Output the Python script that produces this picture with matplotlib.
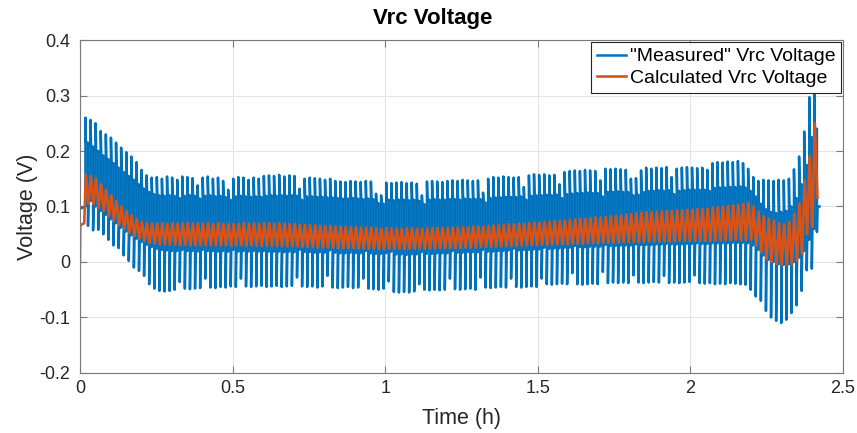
import matplotlib
import numpy as np

matplotlib.use("Agg")
import matplotlib.pyplot as plt

plt.rcParams["font.family"] = ["Liberation Sans", "DejaVu Sans"]

BLUE = "#0072BD"
ORANGE = "#D95319"

# Pulse test: one charge/discharge pulse pair per cycle (time in hours)
CYCLE_START = 0.018
CYCLE_PERIOD = 0.0167

# Measured Vrc per cycle: spike peak, level after peak, spike trough, level after trough (V)
measured_top = [
    0.260, 0.256, 0.250, 0.236, 0.230, 0.224, 0.215, 0.206, 0.198, 0.190, 0.180, 0.166,
    0.156, 0.152, 0.153, 0.150, 0.154, 0.152, 0.148, 0.154, 0.153, 0.151, 0.138, 0.152,
    0.154, 0.150, 0.152, 0.146, 0.130, 0.150, 0.153, 0.152, 0.148, 0.152, 0.150, 0.155,
    0.156, 0.155, 0.157, 0.154, 0.156, 0.155, 0.132, 0.150, 0.152, 0.151, 0.150, 0.148,
    0.150, 0.146, 0.145, 0.144, 0.146, 0.145, 0.144, 0.146, 0.145, 0.123, 0.120, 0.143,
    0.142, 0.143, 0.144, 0.142, 0.143, 0.141, 0.120, 0.145, 0.146, 0.145, 0.144, 0.146,
    0.147, 0.146, 0.148, 0.147, 0.146, 0.147, 0.125, 0.150, 0.153, 0.152, 0.154, 0.153,
    0.152, 0.153, 0.135, 0.156, 0.158, 0.157, 0.158, 0.156, 0.157, 0.140, 0.162, 0.164,
    0.165, 0.164, 0.166, 0.165, 0.164, 0.147, 0.168, 0.167, 0.168, 0.167, 0.166, 0.150,
    0.151, 0.165, 0.170, 0.168, 0.170, 0.169, 0.171, 0.153, 0.168, 0.170, 0.171, 0.170,
    0.169, 0.170, 0.166, 0.178, 0.180, 0.179, 0.181, 0.180, 0.182, 0.178, 0.168, 0.153,
    0.146, 0.148, 0.147, 0.146, 0.148, 0.147, 0.150, 0.167, 0.190, 0.235, 0.297, 0.302,
]
measured_high = [
    0.215, 0.208, 0.200, 0.192, 0.185, 0.178, 0.170, 0.162, 0.155, 0.148, 0.140, 0.132,
    0.126, 0.122, 0.120, 0.119, 0.120, 0.119, 0.115, 0.119, 0.120, 0.119, 0.114, 0.119,
    0.120, 0.118, 0.119, 0.117, 0.112, 0.118, 0.119, 0.118, 0.117, 0.118, 0.117, 0.119,
    0.120, 0.119, 0.120, 0.119, 0.120, 0.119, 0.112, 0.118, 0.118, 0.117, 0.117, 0.116,
    0.116, 0.115, 0.114, 0.114, 0.115, 0.114, 0.113, 0.114, 0.113, 0.106, 0.105, 0.112,
    0.111, 0.112, 0.112, 0.111, 0.112, 0.110, 0.104, 0.112, 0.113, 0.112, 0.112, 0.113,
    0.113, 0.112, 0.114, 0.113, 0.113, 0.113, 0.107, 0.115, 0.116, 0.116, 0.117, 0.117,
    0.117, 0.118, 0.112, 0.119, 0.120, 0.120, 0.121, 0.120, 0.121, 0.115, 0.122, 0.123,
    0.124, 0.124, 0.125, 0.124, 0.124, 0.118, 0.126, 0.126, 0.127, 0.126, 0.126, 0.120,
    0.121, 0.126, 0.128, 0.128, 0.129, 0.128, 0.129, 0.122, 0.128, 0.129, 0.130, 0.130,
    0.130, 0.130, 0.128, 0.133, 0.134, 0.134, 0.135, 0.135, 0.136, 0.134, 0.128, 0.118,
    0.105, 0.095, 0.090, 0.088, 0.090, 0.092, 0.100, 0.115, 0.140, 0.175, 0.225, 0.240,
]
measured_bottom = [
    0.065, 0.057, 0.058, 0.050, 0.040, 0.030, 0.025, 0.012, 0.002, -0.010, -0.016, -0.025,
    -0.040, -0.048, -0.052, -0.053, -0.052, -0.050, -0.036, -0.048, -0.049, -0.048, -0.047, -0.030,
    -0.046, -0.047, -0.045, -0.046, -0.044, -0.045, -0.030, -0.044, -0.045, -0.044, -0.043, -0.045,
    -0.044, -0.043, -0.045, -0.044, -0.043, -0.028, -0.044, -0.045, -0.044, -0.046, -0.044, -0.025,
    -0.046, -0.047, -0.046, -0.045, -0.047, -0.046, -0.030, -0.048, -0.049, -0.050, -0.048, -0.035,
    -0.054, -0.055, -0.054, -0.055, -0.053, -0.040, -0.050, -0.051, -0.050, -0.051, -0.050, -0.030,
    -0.049, -0.050, -0.049, -0.048, -0.050, -0.028, -0.046, -0.047, -0.046, -0.045, -0.046, -0.030,
    -0.045, -0.046, -0.045, -0.044, -0.045, -0.030, -0.040, -0.041, -0.040, -0.039, -0.040, -0.020,
    -0.040, -0.041, -0.040, -0.039, -0.040, -0.018, -0.038, -0.037, -0.038, -0.037, -0.038, -0.024,
    -0.037, -0.038, -0.037, -0.036, -0.037, -0.025, -0.038, -0.037, -0.038, -0.037, -0.036, -0.024,
    -0.038, -0.039, -0.038, -0.040, -0.039, -0.040, -0.038, -0.039, -0.040, -0.041, -0.050, -0.062,
    -0.070, -0.088, -0.100, -0.106, -0.110, -0.104, -0.092, -0.078, -0.052, -0.015, -0.012, 0.054,
]
measured_low = [
    0.110, 0.100, 0.092, 0.085, 0.077, 0.070, 0.062, 0.055, 0.048, 0.042, 0.036, 0.031,
    0.027, 0.024, 0.022, 0.021, 0.020, 0.020, 0.022, 0.020, 0.020, 0.019, 0.022, 0.020,
    0.020, 0.019, 0.020, 0.019, 0.022, 0.019, 0.020, 0.019, 0.020, 0.019, 0.020, 0.019,
    0.019, 0.019, 0.018, 0.019, 0.018, 0.022, 0.018, 0.018, 0.017, 0.018, 0.017, 0.021,
    0.017, 0.016, 0.016, 0.017, 0.016, 0.016, 0.020, 0.016, 0.015, 0.015, 0.016, 0.019,
    0.014, 0.014, 0.013, 0.014, 0.014, 0.018, 0.015, 0.015, 0.016, 0.016, 0.016, 0.020,
    0.017, 0.017, 0.018, 0.018, 0.018, 0.022, 0.019, 0.019, 0.020, 0.020, 0.021, 0.024,
    0.021, 0.022, 0.022, 0.023, 0.023, 0.026, 0.024, 0.025, 0.025, 0.026, 0.026, 0.029,
    0.027, 0.027, 0.028, 0.028, 0.028, 0.031, 0.029, 0.029, 0.030, 0.030, 0.030, 0.032,
    0.031, 0.031, 0.031, 0.032, 0.032, 0.033, 0.032, 0.032, 0.032, 0.033, 0.033, 0.034,
    0.033, 0.033, 0.034, 0.034, 0.034, 0.034, 0.035, 0.035, 0.035, 0.034, 0.030, 0.022,
    0.012, 0.004, 0.000, -0.004, -0.005, -0.004, 0.000, 0.008, 0.020, 0.040, 0.060, 0.100,
]

# Calculated Vrc per cycle: peak and trough (V)
calculated_high = [
    0.157, 0.155, 0.150, 0.140, 0.130, 0.120, 0.110, 0.100, 0.092, 0.084, 0.078, 0.072,
    0.070, 0.069, 0.069, 0.070, 0.069, 0.070, 0.069, 0.070, 0.070, 0.069, 0.070, 0.069,
    0.070, 0.069, 0.070, 0.069, 0.068, 0.069, 0.069, 0.070, 0.069, 0.070, 0.069, 0.070,
    0.070, 0.069, 0.070, 0.069, 0.069, 0.068, 0.067, 0.067, 0.066, 0.066, 0.065, 0.065,
    0.065, 0.064, 0.064, 0.063, 0.063, 0.063, 0.062, 0.062, 0.062, 0.061, 0.060, 0.061,
    0.061, 0.061, 0.060, 0.061, 0.061, 0.060, 0.060, 0.061, 0.061, 0.061, 0.062, 0.061,
    0.062, 0.062, 0.063, 0.063, 0.064, 0.064, 0.064, 0.065, 0.066, 0.066, 0.067, 0.068,
    0.068, 0.069, 0.069, 0.070, 0.071, 0.071, 0.072, 0.073, 0.074, 0.074, 0.075, 0.076,
    0.077, 0.078, 0.078, 0.079, 0.080, 0.080, 0.081, 0.082, 0.083, 0.084, 0.085, 0.086,
    0.088, 0.089, 0.090, 0.090, 0.091, 0.091, 0.092, 0.092, 0.093, 0.093, 0.094, 0.094,
    0.095, 0.096, 0.096, 0.098, 0.099, 0.100, 0.101, 0.102, 0.103, 0.105, 0.107, 0.100,
    0.090, 0.082, 0.078, 0.074, 0.070, 0.068, 0.072, 0.087, 0.105, 0.147, 0.190, 0.250,
]
calculated_low = [
    0.105, 0.104, 0.098, 0.092, 0.083, 0.075, 0.067, 0.060, 0.053, 0.047, 0.042, 0.038,
    0.035, 0.033, 0.032, 0.032, 0.031, 0.031, 0.030, 0.031, 0.030, 0.030, 0.030, 0.030,
    0.030, 0.030, 0.030, 0.030, 0.029, 0.030, 0.030, 0.029, 0.030, 0.029, 0.029, 0.029,
    0.029, 0.029, 0.028, 0.028, 0.028, 0.028, 0.027, 0.027, 0.027, 0.026, 0.026, 0.026,
    0.026, 0.025, 0.025, 0.025, 0.025, 0.024, 0.024, 0.024, 0.024, 0.023, 0.023, 0.024,
    0.024, 0.024, 0.023, 0.024, 0.024, 0.024, 0.024, 0.024, 0.024, 0.025, 0.025, 0.025,
    0.025, 0.025, 0.026, 0.026, 0.026, 0.027, 0.027, 0.027, 0.028, 0.028, 0.028, 0.029,
    0.029, 0.029, 0.030, 0.030, 0.030, 0.031, 0.031, 0.031, 0.032, 0.032, 0.032, 0.033,
    0.033, 0.033, 0.034, 0.034, 0.034, 0.035, 0.035, 0.035, 0.035, 0.036, 0.036, 0.036,
    0.036, 0.036, 0.037, 0.037, 0.037, 0.037, 0.037, 0.037, 0.038, 0.038, 0.038, 0.038,
    0.038, 0.038, 0.038, 0.039, 0.039, 0.039, 0.039, 0.040, 0.040, 0.040, 0.040, 0.030,
    0.018, 0.005, 0.000, -0.004, -0.005, -0.005, -0.004, 0.002, 0.015, 0.050, 0.063, 0.116,
]

# Samples before the first pulse
measured_lead_t = [0.0, 0.018]
measured_lead_v = [0.096, 0.100]
calculated_lead_t = [0.0, 0.001, 0.014]
calculated_lead_v = [0.000, 0.066, 0.070]

x_ticks = [0, 0.5, 1, 1.5, 2, 2.5]
x_tick_labels = ["0", "0.5", "1", "1.5", "2", "2.5"]
y_ticks = [-0.2, -0.1, 0, 0.1, 0.2, 0.3, 0.4]
y_tick_labels = ["-0.2", "-0.1", "0", "0.1", "0.2", "0.3", "0.4"]


def measured_trace(starts, period):
    xs = list(measured_lead_t)
    ys = list(measured_lead_v)
    for t0, top, hi, bot, lo in zip(
        starts, measured_top, measured_high, measured_bottom, measured_low
    ):
        xs += [t0, t0 + 0.1 * period, t0 + 0.5 * period, t0 + 0.5 * period,
               t0 + 0.6 * period, t0 + period]
        ys += [top, hi, hi, bot, lo, lo]
    return np.array(xs), np.array(ys)


def calculated_trace(starts, period):
    xs = list(calculated_lead_t)
    ys = list(calculated_lead_v)
    for t0, hi, lo in zip(starts, calculated_high, calculated_low):
        xs += [t0 + 0.08 * period, t0 + 0.6 * period]
        ys += [hi, lo]
    return np.array(xs), np.array(ys)


starts = CYCLE_START + CYCLE_PERIOD * np.arange(len(measured_top))
t_meas, v_meas = measured_trace(starts, CYCLE_PERIOD)
t_calc, v_calc = calculated_trace(starts, CYCLE_PERIOD)

fig = plt.figure(figsize=(8.57, 4.33), dpi=100)
ax = fig.add_axes([0.0933, 0.1386, 0.8904, 0.7690])

ax.plot(t_meas, v_meas, color=BLUE, linewidth=1.8, label='"Measured" Vrc Voltage')
ax.plot(t_calc, v_calc, color=ORANGE, linewidth=1.9, label="Calculated Vrc Voltage")

ax.set_xlim(0, 2.5)
ax.set_ylim(-0.2, 0.4)
ax.set_xticks(x_ticks)
ax.set_xticklabels(x_tick_labels)
ax.set_yticks(y_ticks)
ax.set_yticklabels(y_tick_labels)

ax.grid(True, color="#e3e3e3", linewidth=0.8)
ax.set_axisbelow(True)
for spine in ax.spines.values():
    spine.set_color("#7a7a7a")
    spine.set_linewidth(0.8)
ax.tick_params(direction="in", length=5, width=0.8, color="#7a7a7a",
               labelcolor="#262626", labelsize=13, top=True, right=True)
ax.tick_params(axis="y", pad=7)
ax.tick_params(axis="x", pad=5)

ax.set_xlabel("Time (h)", fontsize=15.5, color="#262626", labelpad=8)
ax.set_ylabel("Voltage (V)", fontsize=15.5, color="#262626", labelpad=1)
fig.text(0.505, 0.958, "Vrc Voltage", ha="center", va="center",
         fontsize=16, fontweight="bold", color="#000000")

legend = ax.legend(loc="upper right", fontsize=14, handlelength=1.5,
                   handletextpad=0.2, borderpad=0.3, labelspacing=0.2,
                   borderaxespad=0.1, fancybox=False, framealpha=1)
legend.get_frame().set_edgecolor("#262626")
legend.get_frame().set_linewidth(0.8)

fig.savefig("out.png", dpi=100)
